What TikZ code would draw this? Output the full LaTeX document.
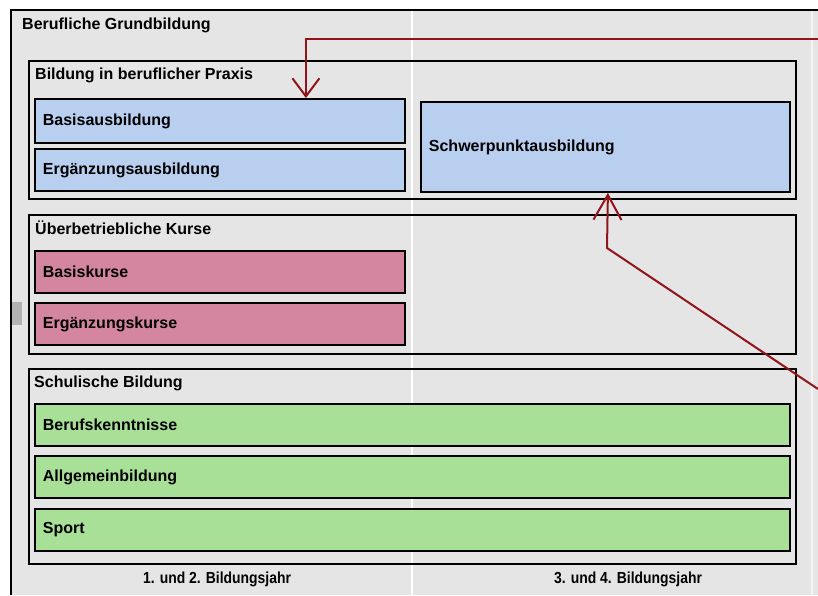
\documentclass[tikz,border=0pt]{standalone}
\usepackage{fontspec}
\setmainfont{Liberation Sans}
\usetikzlibrary{arrows.meta, positioning}

\definecolor{bgGray}{RGB}{229,229,229}
\definecolor{boxBlue}{RGB}{185,207,240}
\definecolor{boxPink}{RGB}{212,134,160}
\definecolor{boxGreen}{RGB}{168,224,152}
\definecolor{arrowRed}{RGB}{145,20,25}

\begin{document}
\begin{tikzpicture}[x=1pt, y=-1pt, font={\bfseries\fontsize{16}{19}\selectfont},
secframe/.style={draw, line width=1.8pt, anchor=north west, inner sep=0pt},
sectitle/.style={anchor=west, inner sep=0pt},
basebox/.style={draw, line width=1.8pt, anchor=north west, inner xsep=8pt,
inner ysep=0pt, align=left},
redline/.style={draw=arrowRed, line width=2pt},
]

\useasboundingbox (0,0) rectangle (818,595);
\fill[white] (0,0) rectangle (818,595);
\fill[bgGray] (11,10) rectangle (818,595);

% column dividers
\draw[white, line width=1.5pt] (412,10) -- (412,595);
\draw[white!60!bgGray, line width=1.5pt] (812,10) -- (812,595);

% outer frame
\draw[line width=1.4pt] (11,595) |- (818,10);
\fill[black!30] (12,302) rectangle (22,325);

\node[sectitle] (grundT) at (22,25) {Berufliche Grundbildung};

% Bildung in beruflicher Praxis
\node[secframe, minimum width=767pt, minimum height=138pt] (praxis) at (28,60) {};
\node[sectitle] (praxisT) at (35,75) {Bildung in beruflicher Praxis};
\node[basebox, fill=boxBlue, text width=354pt, minimum height=44pt] (basis) at (34,98) {Basisausbildung};
\node[basebox, fill=boxBlue, text width=354pt, minimum height=42pt] (ergaus) at (34,148) {Ergänzungsausbildung};
\node[basebox, fill=boxBlue, text width=353pt, minimum height=90pt] (schwer) at (420,101) {Schwerpunktausbildung};

% Ueberbetriebliche Kurse
\node[secframe, minimum width=767pt, minimum height=139pt] (uek) at (28,214) {};
\node[sectitle] (uekT) at (35,228) {Überbetriebliche Kurse};
\node[basebox, fill=boxPink, text width=354pt, minimum height=42pt] (bkurs) at (34,250) {Basiskurse};
\node[basebox, fill=boxPink, text width=354pt, minimum height=42pt] (ekurs) at (34,302) {Ergänzungskurse};

% Schulische Bildung
\node[secframe, minimum width=767pt, minimum height=195pt] (schul) at (28,368) {};
\node[sectitle] (schulT) at (34,383) {Schulische Bildung};
\node[basebox, fill=boxGreen, text width=739pt, minimum height=42pt] (beruf) at (34,403) {Berufskenntnisse};
\node[basebox, fill=boxGreen, text width=739pt, minimum height=42pt] (allg) at (34,455) {Allgemeinbildung};
\node[basebox, fill=boxGreen, text width=739pt, minimum height=42pt] (sport) at (34,508) {Sport};

\node (jahr12) at (217,579) {\scalebox{0.87}[1]{1. und 2. Bildungsjahr}};
\node (jahr34) at (628,579) {\scalebox{0.87}[1]{3. und 4. Bildungsjahr}};

% red pointers
\coordinate (pr1) at (818,39);
\coordinate (pr2) at (818,389);
\coordinate (pr2k) at (607,248);
\draw[redline, -{Straight Barb[length=18pt, width=27pt]}] (pr1) -| ([xshift=86pt]basis.north);
\draw[redline, -{Straight Barb[length=25pt, width=28pt]}] (pr2) -- (pr2k) -- ([xshift=2.5pt]schwer.south);

\end{tikzpicture}
\end{document}
